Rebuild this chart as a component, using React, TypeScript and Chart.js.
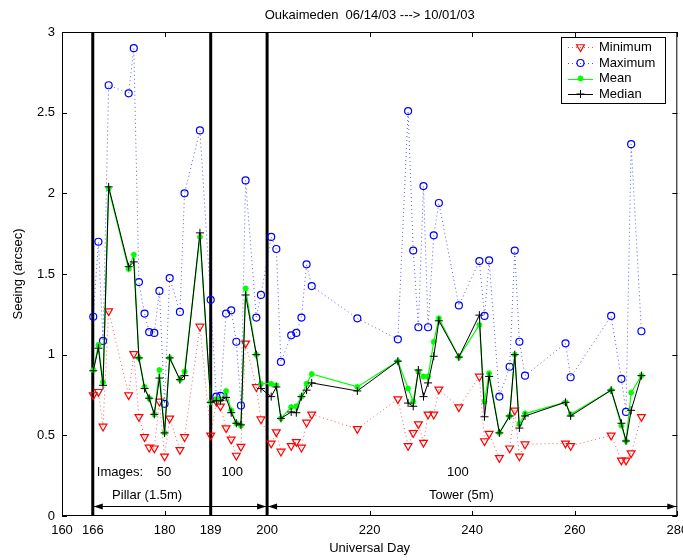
import React, { useEffect, useRef } from "react";
import { Chart, registerables } from "chart.js";
Chart.register(...registerables);

// ---- data ----
const days = [
  166.1, 167.1, 168.0, 169.1, 173.0, 174.0, 175.0, 176.1, 177.0, 178.0, 179.0, 180.0, 181.0, 183.0, 183.9, 186.9,
  189.0, 190.1, 190.9, 192.0, 193.0, 194.0, 194.9, 195.8, 197.9, 198.8,
  200.8, 201.8, 202.7, 204.7, 205.7, 206.7, 207.7, 208.7, 217.6,
  225.5, 227.5, 228.5, 229.5, 230.5, 231.4, 232.5, 233.5, 237.4,
  241.4, 242.4, 243.3, 245.3, 247.3, 248.3, 249.2, 250.3, 258.2, 259.2,
  267.1, 269.1, 270.0, 271.0, 273.0,
];
const minimum = [
  0.75, 0.77, 0.555, 1.27, 0.75, 1.005, 0.615, 0.49, 0.425, 0.42, 0.71, 0.37, 0.605, 0.41, 0.49, 1.175,
  0.5, 0.71, 0.68, 0.545, 0.475, 0.375, 0.43, 1.07, 0.8, 0.6,
  0.45, 0.52, 0.4, 0.435, 0.46, 0.425, 0.58, 0.63, 0.54,
  0.725, 0.435, 0.515, 0.57, 0.455, 0.63, 0.63, 0.785, 0.675,
  0.865, 0.465, 0.51, 0.36, 0.42, 0.655, 0.37, 0.445, 0.45, 0.435,
  0.5, 0.345, 0.345, 0.39, 0.615,
];
const maximum = [
  1.235, 1.7, 1.085, 2.67, 2.62, 2.9, 1.45, 1.255, 1.14, 1.135, 1.395, 0.695, 1.475, 1.265, 2.0, 2.39,
  1.34, 0.74, 0.745, 1.255, 1.275, 1.08, 0.685, 2.08, 1.23, 1.37,
  1.73, 1.655, 0.955, 1.12, 1.135, 1.23, 1.56, 1.425, 1.225,
  1.095, 2.51, 1.645, 1.17, 2.045, 1.17, 1.74, 1.94, 1.305,
  1.58, 1.24, 1.585, 0.74, 0.925, 1.645, 1.08, 0.87, 1.07, 0.86,
  1.24, 0.85, 0.645, 2.305, 1.145,
];
const mean = [
  0.905, 1.06, 0.83, 2.03, 1.53, 1.62, 0.98, 0.8, 0.73, 0.63, 0.905, 0.515, 0.98, 0.845, 0.895, 1.73,
  0.705, 0.725, 0.72, 0.775, 0.655, 0.575, 0.56, 1.41, 1.0, 0.82,
  0.82, 0.81, 0.605, 0.675, 0.68, 0.74, 0.82, 0.88, 0.8,
  0.96, 0.79, 0.71, 0.895, 0.865, 0.865, 1.08, 1.225, 0.985,
  1.185, 0.71, 0.885, 0.515, 0.62, 1.0, 0.57, 0.635, 0.705, 0.63,
  0.78, 0.56, 0.465, 0.765, 0.87,
];
const median = [
  0.9, 1.04, 0.81, 2.04, 1.545, 1.575, 0.98, 0.79, 0.73, 0.63, 0.855, 0.515, 0.98, 0.845, 0.87, 1.755,
  0.705, 0.715, 0.715, 0.735, 0.64, 0.575, 0.565, 1.37, 1.0, 0.79,
  0.74, 0.8, 0.605, 0.645, 0.64, 0.74, 0.78, 0.825, 0.775,
  0.96, 0.7, 0.68, 0.905, 0.74, 0.825, 0.99, 1.21, 0.985,
  1.245, 0.615, 0.865, 0.515, 0.62, 1.0, 0.545, 0.62, 0.705, 0.62,
  0.78, 0.575, 0.465, 0.655, 0.87,
];
const xTicks = [160, 166, 180, 189, 200, 220, 240, 260, 280];
const yTicks = [0, 0.5, 1, 1.5, 2, 2.5, 3];
const dividers = [166, 189, 200];
const seriesNames = ["Minimum", "Maximum", "Mean", "Median"];
const titleText = "Oukaimeden  06/14/03 ---> 10/01/03";
const xTitle = "Universal Day";
const yTitle = "Seeing (arcsec)";
// annotation texts in data coordinates
const notes = [
  { text: "Images:", x: 166.8, y: 0.27, align: "left" },
  { text: "50", x: 179.9, y: 0.27, align: "center" },
  { text: "100", x: 193.2, y: 0.27, align: "center" },
  { text: "100", x: 237.2, y: 0.27, align: "center" },
  { text: "Pillar (1.5m)", x: 176.6, y: 0.13, align: "center" },
  { text: "Tower (5m)", x: 237.9, y: 0.13, align: "center" },
];
const arrows = [
  { from: 166, to: 200, y: 0.06 },
  { from: 200, to: 280, y: 0.06 },
];

const FONT = '13px "Liberation Sans", Arial, Helvetica, sans-serif';
const RED = "rgb(255,0,0)";
const BLUE = "rgb(0,0,255)";
const GREEN = "rgb(0,255,0)";

function drawMarker(ctx: CanvasRenderingContext2D, kind: number, cx: number, cy: number) {
  ctx.save();
  ctx.lineWidth = 1.2;
  if (kind === 0) {
    const r = 4.5;
    ctx.strokeStyle = RED;
    ctx.beginPath();
    ctx.moveTo(cx, cy + r);
    ctx.lineTo(cx - r * 0.866, cy - r / 2);
    ctx.lineTo(cx + r * 0.866, cy - r / 2);
    ctx.closePath();
    ctx.stroke();
  } else if (kind === 1) {
    ctx.strokeStyle = BLUE;
    ctx.beginPath();
    ctx.arc(cx, cy, 3.5, 0, Math.PI * 2);
    ctx.stroke();
  } else if (kind === 2) {
    ctx.strokeStyle = GREEN;
    ctx.lineWidth = 1.6;
    const r = 3;
    ctx.beginPath();
    ctx.moveTo(cx - r, cy); ctx.lineTo(cx + r, cy);
    ctx.moveTo(cx, cy - r); ctx.lineTo(cx, cy + r);
    ctx.moveTo(cx - r * 0.7, cy - r * 0.7); ctx.lineTo(cx + r * 0.7, cy + r * 0.7);
    ctx.moveTo(cx - r * 0.7, cy + r * 0.7); ctx.lineTo(cx + r * 0.7, cy - r * 0.7);
    ctx.stroke();
  } else {
    ctx.strokeStyle = "#000";
    ctx.lineWidth = 1;
    const r = 4;
    ctx.beginPath();
    ctx.moveTo(cx - r, cy); ctx.lineTo(cx + r, cy);
    ctx.moveTo(cx, cy - r); ctx.lineTo(cx, cy + r);
    ctx.stroke();
  }
  ctx.restore();
}

const overlay = {
  id: "overlay",
  afterDraw(chart: any) {
    const { ctx, chartArea: a } = chart;
    const xs = chart.scales.x;
    const ys = chart.scales.y;
    ctx.save();
    ctx.strokeStyle = "#000";
    ctx.lineWidth = 1;
    ctx.strokeRect(a.left + 0.5, a.top + 0.5, a.right - a.left - 1, a.bottom - a.top - 1);
    // inward ticks
    ctx.beginPath();
    for (const v of xTicks) {
      const px = Math.round(xs.getPixelForValue(v)) + 0.5;
      ctx.moveTo(px, a.bottom); ctx.lineTo(px, a.bottom - 5);
      ctx.moveTo(px, a.top); ctx.lineTo(px, a.top + 5);
    }
    for (const v of yTicks) {
      const py = Math.round(ys.getPixelForValue(v)) + 0.5;
      ctx.moveTo(a.left, py); ctx.lineTo(a.left + 5, py);
      ctx.moveTo(a.right, py); ctx.lineTo(a.right - 5, py);
    }
    ctx.stroke();

    ctx.fillStyle = "#000";
    ctx.font = FONT;
    ctx.textBaseline = "middle";
    for (const n of notes) {
      ctx.textAlign = n.align as CanvasTextAlign;
      ctx.fillText(n.text, xs.getPixelForValue(n.x), ys.getPixelForValue(n.y));
    }
    // double arrows
    for (const ar of arrows) {
      const x1 = xs.getPixelForValue(ar.from);
      const x2 = xs.getPixelForValue(ar.to);
      const py = Math.round(ys.getPixelForValue(ar.y)) + 0.5;
      ctx.beginPath();
      ctx.moveTo(x1, py); ctx.lineTo(x2, py);
      ctx.stroke();
      const L = 9, W = 3;
      ctx.beginPath();
      ctx.moveTo(x1 + 1, py); ctx.lineTo(x1 + 1 + L, py - W); ctx.lineTo(x1 + 1 + L, py + W); ctx.closePath();
      ctx.moveTo(x2 - 1, py); ctx.lineTo(x2 - 1 - L, py - W); ctx.lineTo(x2 - 1 - L, py + W); ctx.closePath();
      ctx.fill();
    }
    // titles
    ctx.textAlign = "center";
    const cx = (a.left + a.right) / 2;
    ctx.fillText(titleText, cx, 15);
    ctx.fillText(xTitle, cx, 548);
    ctx.save();
    ctx.translate(18, (a.top + a.bottom) / 2);
    ctx.rotate(-Math.PI / 2);
    ctx.fillText(yTitle, 0, 0);
    ctx.restore();

    // legend
    const lx = 561, ly = 37, lw = 104, lh = 66;
    ctx.fillStyle = "#fff";
    ctx.fillRect(lx, ly, lw, lh);
    ctx.strokeStyle = "#000";
    ctx.strokeRect(lx + 0.5, ly + 0.5, lw, lh);
    const rows = [47, 63, 78.5, 94];
    seriesNames.forEach((name, i) => {
      const yy = rows[i];
      ctx.save();
      ctx.lineWidth = 1;
      if (i === 0) { ctx.strokeStyle = "rgba(255,0,0,0.7)"; ctx.setLineDash([1, 3]); }
      else if (i === 1) { ctx.strokeStyle = "rgba(0,0,255,0.7)"; ctx.setLineDash([1, 3]); }
      else if (i === 2) { ctx.strokeStyle = GREEN; }
      else { ctx.strokeStyle = "#000"; }
      ctx.beginPath();
      ctx.moveTo(568, Math.round(yy) + 0.5); ctx.lineTo(593, Math.round(yy) + 0.5);
      ctx.stroke();
      ctx.restore();
      drawMarker(ctx, i, 580.5, yy);
      ctx.fillStyle = "#000";
      ctx.textAlign = "left";
      ctx.fillText(name, 599, yy);
    });
    ctx.restore();
  },
};

export default function App() {
  const ref = useRef<HTMLCanvasElement>(null);
  useEffect(() => {
    document.body.style.margin = "0";
    const pts = (arr: number[]) => days.map((d, i) => ({ x: d, y: arr[i] }));
    const datasets: any[] = [
      {
        label: "Median", data: pts(median), borderColor: "#000", borderWidth: 1,
        pointStyle: "cross", pointRadius: 4, pointBorderColor: "#000", pointBorderWidth: 1, order: 0,
      },
      {
        label: "Mean", data: pts(mean), borderColor: GREEN, borderWidth: 1.2,
        pointStyle: "star", pointRadius: 3, pointBorderColor: GREEN, pointBackgroundColor: GREEN, pointBorderWidth: 1.6, order: 1,
      },
      {
        label: "Maximum", data: pts(maximum), borderColor: "rgba(0,0,255,0.65)", borderWidth: 1, borderDash: [1, 3],
        pointStyle: "circle", pointRadius: 3.5, pointBorderColor: BLUE, pointBackgroundColor: "transparent", pointBorderWidth: 1.2, order: 2,
      },
      {
        label: "Minimum", data: pts(minimum), borderColor: "rgba(255,0,0,0.65)", borderWidth: 1, borderDash: [1, 3],
        pointStyle: "triangle", rotation: 180, pointRadius: 4.5, pointBorderColor: RED, pointBackgroundColor: "transparent", pointBorderWidth: 1.2, order: 3,
      },
      ...dividers.map((d) => ({
        label: "div" + d, data: [{ x: d, y: 0 }, { x: d, y: 3 }], borderColor: "#000", borderWidth: 3,
        pointRadius: 0, order: 4,
      })),
    ];
    const tickFont = { family: '"Liberation Sans", Arial, Helvetica, sans-serif', size: 13 };
    const chart = new Chart(ref.current!, {
      type: "line",
      data: { datasets },
      options: {
        responsive: false,
        animation: false,
        layout: { padding: { top: 32, right: 5, left: 0, bottom: 0 } },
        elements: { line: { tension: 0 } },
        plugins: { legend: { display: false }, tooltip: { enabled: false }, title: { display: false } },
        scales: {
          x: {
            type: "linear", min: 160, max: 280,
            afterBuildTicks: (s: any) => { s.ticks = xTicks.map((v) => ({ value: v })); },
            afterFit: (s: any) => { s.height = 44; s.paddingLeft = 0; s.paddingRight = 0; },
            grid: { display: false, drawTicks: false },
            border: { display: false },
            ticks: { padding: 7, font: tickFont, color: "#000", maxRotation: 0, autoSkip: false, callback: (v: any) => String(v) },
          },
          y: {
            type: "linear", min: 0, max: 3,
            afterBuildTicks: (s: any) => { s.ticks = yTicks.map((v) => ({ value: v })); },
            afterFit: (s: any) => { s.width = 62; s.paddingTop = 0; s.paddingBottom = 0; },
            grid: { display: false, drawTicks: false },
            border: { display: false },
            ticks: { padding: 7, font: tickFont, color: "#000", callback: (v: any) => String(v) },
          },
        },
      },
      plugins: [overlay],
    } as any);
    return () => chart.destroy();
  }, []);
  return <canvas ref={ref} width={683} height={560} style={{ display: "block", width: 683, height: 560 }} />;
}
